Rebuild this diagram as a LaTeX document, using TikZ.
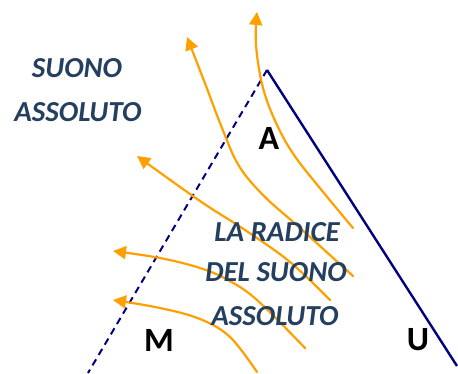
\documentclass[tikz,border=0pt]{standalone}
\usepackage{fontspec}
\setmainfont{Carlito}
\usetikzlibrary{arrows.meta}
\definecolor{myorange}{HTML}{FFA000}
\definecolor{mynavy}{HTML}{000080}
\definecolor{txtblue}{HTML}{243F60}
\begin{document}
\begin{tikzpicture}[x=1pt,y=-1pt,
  flow/.style={draw=myorange, line width=2.2pt, line cap=round,
    -{Triangle[length=13pt,width=13pt]}},
  wall/.style={draw=mynavy, line width=2.4pt},
  dashwall/.style={draw=mynavy, line width=2pt, dash pattern=on 7pt off 5pt},
  caption/.style={text=txtblue, font=\fontsize{29}{32}\selectfont\bfseries\itshape, anchor=base, inner sep=0pt},
  point/.style={text=black, font=\fontsize{34}{38}\selectfont\bfseries, anchor=center, inner sep=0pt}]
\useasboundingbox (0,0) rectangle (458,374);

% walls
\coordinate (apex) at (267,70);
\coordinate (uend) at (457,366);
\coordinate (mend) at (88,373);
\draw[wall] (apex) -- (uend);
\draw[dashwall] (apex) -- (mend);

% flow lines
\coordinate (a0) at (353,228);
\coordinate (a1) at (257,12);
\draw[flow] plot[smooth, tension=0.6] coordinates {(a0) (319,187) (294,155) (277,125) (263,88) (256,45) (a1)};

\coordinate (b0) at (353,276);
\coordinate (b1) at (187,37);
\draw[flow] plot[smooth, tension=0.6] coordinates {(b0) (300,228) (264,196) (239,166) (222,128) (206,86) (b1)};

\coordinate (c0) at (330,300);
\coordinate (c1) at (137,156);
\draw[flow] plot[smooth, tension=0.6] coordinates {(c0) (290,262) (245,230) (200,201) (c1)};

\coordinate (d0) at (305,348);
\coordinate (d1) at (113,251);
\draw[flow] plot[smooth, tension=0.6] coordinates {(d0) (257,300) (228,280) (200,268) (160,258) (d1)};

\coordinate (e0) at (257,372);
\coordinate (e1) at (113,300);
\draw[flow] plot[smooth, tension=0.6] coordinates {(e0) (230,337) (200,319) (160,308) (e1)};

% texts
\node[caption] (s1) at (77,78) {SUONO};
\node[caption] (s2) at (78,122) {ASSOLUTO};
\node[caption] (r1) at (277,241.5) {LA RADICE};
\node[caption] (r2) at (276,281.5) {DEL SUONO};
\node[caption] (r3) at (275,325) {ASSOLUTO};

\node[point] (la) at (269,138) {A};
\node[point] (lm) at (159,340) {M};
\node[point] (lu) at (418,340) {U};
\end{tikzpicture}
\end{document}
